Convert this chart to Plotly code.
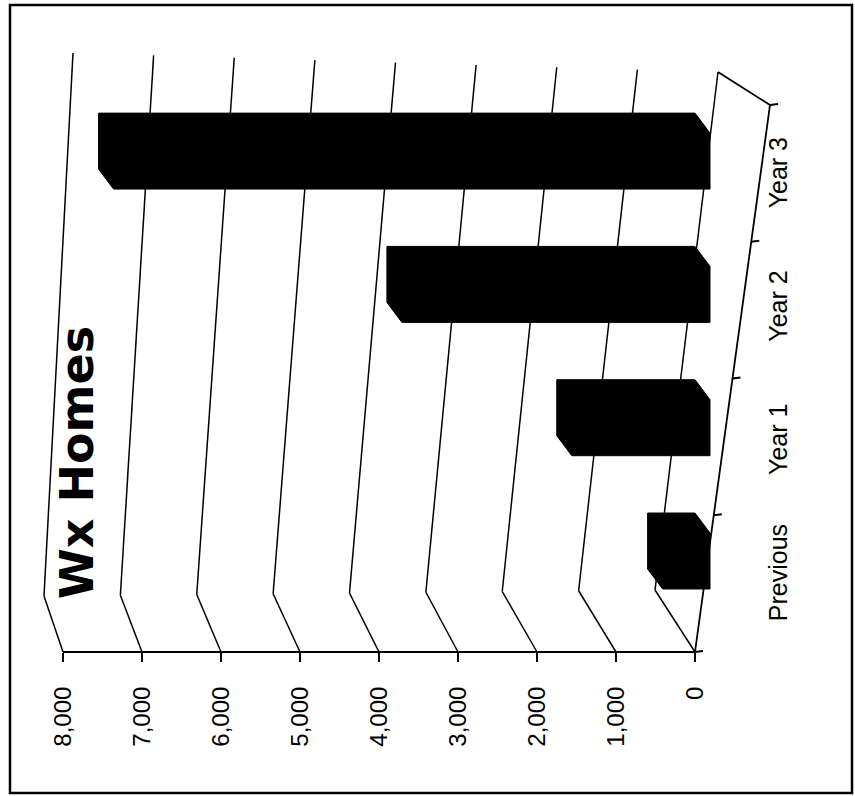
import plotly.graph_objects as go

# ---- data ----
categories = ["Previous", "Year 1", "Year 2", "Year 3"]
homes = [600, 1750, 3900, 7550]
value_ticks = [0, 1000, 2000, 3000, 4000, 5000, 6000, 7000, 8000]
value_labels = ["0", "1,000", "2,000", "3,000", "4,000", "5,000", "6,000", "7,000", "8,000"]
chart_title = "Wx Homes"

# ---- page / plot-area geometry (pixels) ----
W, H = 855, 796
PL, PR, PT, PB = 30, 745, 50, 652
X0, PXU = 695.0, 0.079      # pixel of value 0, pixels per unit value (axis reversed)
Y0, PYU = 551.0, 133.3      # pixel of first category, pixels per category step
VMAX = value_ticks[-1]


def vx(px):
    """pixel column -> value-axis coordinate"""
    return (X0 - px) / PXU


def cy(py):
    """pixel row -> category-axis coordinate"""
    return (Y0 - py) / PYU


def to_px(v):
    return X0 - PXU * v


def paper_x(px):
    return (px - PL) / (PR - PL)


def paper_y(py):
    return (PB - py) / (PB - PT)


shapes = []


def seg(x0, y0, x1, y1, width=1.5):
    # drawn in paper space so the floor outline may run past the plot edge
    shapes.append(dict(type="line", xref="paper", yref="paper", layer="below",
                       x0=paper_x(x0), y0=paper_y(y0), x1=paper_x(x1), y1=paper_y(y1),
                       line=dict(color="black", width=width)))


# slanted gridlines: short floor segment, then up the back wall
for v in value_ticks:
    t = v / VMAX
    bx, by = to_px(v), PB
    kx, ky = bx - (40 - 21 * t), 590 + 6 * t
    tx, ty = kx + (63 - 34 * t), 72 - 19 * t
    seg(bx, by, kx, ky)
    seg(kx, ky, tx, ty)

# value-axis baseline
seg(to_px(VMAX), PB, to_px(0), PB, width=2)

# floor outline on the category side
fx0, fy0, fx1, fy1 = to_px(0), PB, 770, 105
seg(fx0, fy0, fx1, fy1, width=1.8)
seg(fx1, fy1, to_px(0) - 40 + 63, 72, width=1.8)
n = len(categories)
for k in range(n + 1):
    f = k / n
    ex, ey = fx0 + f * (fx1 - fx0), fy0 + f * (fy1 - fy0)
    seg(ex, ey, ex + 8, ey - 1, width=1.8)

# outer frame
shapes.append(dict(type="rect", xref="paper", yref="paper",
                   x0=paper_x(10), y0=paper_y(793), x1=paper_x(852), y1=paper_y(5),
                   line=dict(color="black", width=2.5), layer="above"))

fig = go.Figure()

# solid bars with their visible end/top faces
depth_v = 15 / PXU     # front face shift along the value axis
face = 0.42            # face thickness in category units
lift = 0.15            # back face raised by this much
for i, (cat, v) in enumerate(zip(categories, homes)):
    c = i
    top = c + (face + lift) / 2
    bot = c - (face + lift) / 2
    xs = [v, 0, -depth_v, -depth_v, v - depth_v, v, v]
    ys = [top, top, top - lift, bot, bot, bot + lift, top]
    fig.add_trace(go.Scatter(x=xs, y=ys, mode="lines", fill="toself",
                             fillcolor="black", line=dict(color="black", width=1),
                             name=cat, hoverinfo="skip", showlegend=False))

fig.update_layout(
    width=W, height=H, autosize=False,
    margin=dict(l=PL, r=W - PR, t=PT, b=H - PB, pad=0),
    paper_bgcolor="white", plot_bgcolor="white",
    showlegend=False,
    font=dict(family="Liberation Sans, Arial, sans-serif", color="black", size=25),
    xaxis=dict(range=[vx(PL), vx(PR)], tickvals=value_ticks, ticktext=value_labels,
               tickangle=-90, ticks="outside", ticklen=9, tickwidth=2, tickcolor="black",
               showgrid=False, zeroline=False, showline=False,
               tickfont=dict(size=24), ticklabelstandoff=15),
    yaxis=dict(range=[cy(PB), cy(PT)], side="right",
               tickvals=[i - 0.19 for i in range(n)], ticktext=categories,
               tickangle=-90, ticks="", showgrid=False, zeroline=False, showline=False,
               tickfont=dict(size=25), ticklabelstandoff=16),
    shapes=shapes,
    annotations=[dict(text="<b>" + chart_title + "</b>", textangle=-90,
                      xref="paper", yref="paper", x=paper_x(77), y=paper_y(463),
                      xanchor="center", yanchor="middle", showarrow=False,
                      font=dict(family="DejaVu Sans, sans-serif", size=46, color="black"))],
)

fig.write_html("out.html")
